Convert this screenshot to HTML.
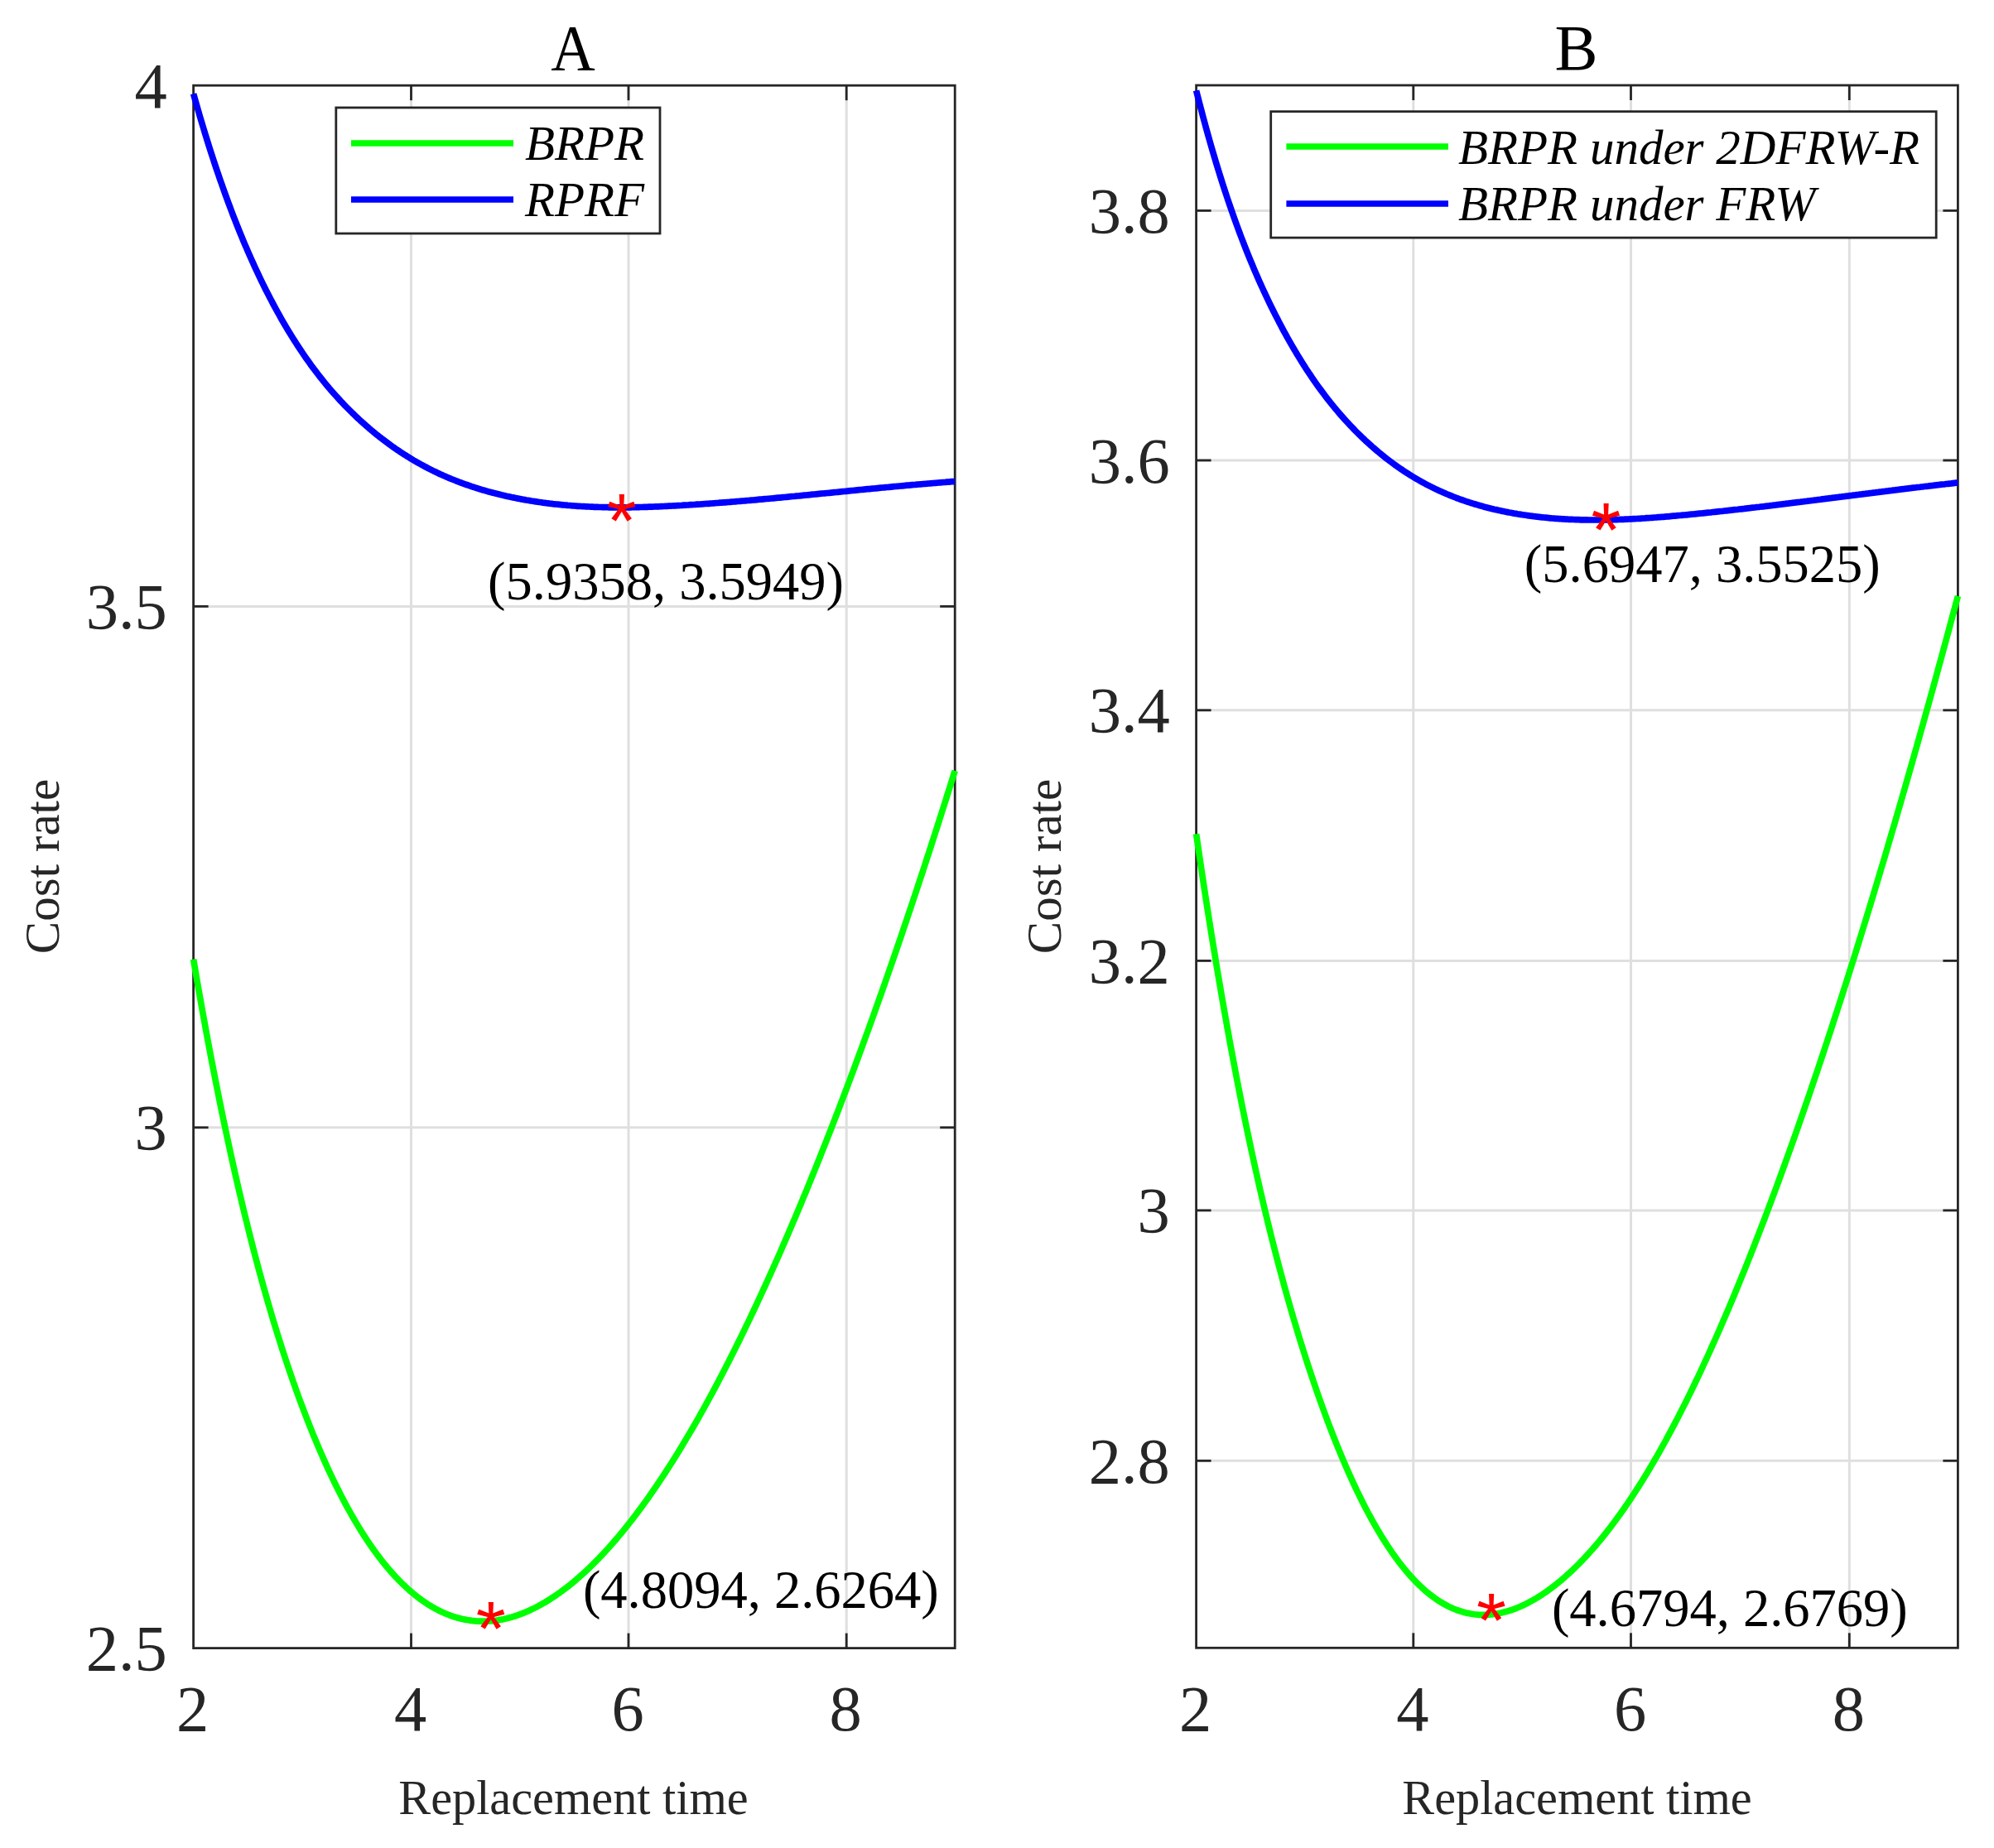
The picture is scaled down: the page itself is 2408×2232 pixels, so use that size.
<!DOCTYPE html>
<html><head><meta charset="utf-8"><title>Cost rate vs replacement time</title>
<style>html,body{margin:0;padding:0;background:#fff;}svg{display:block;}</style></head>
<body>
<svg width="2408" height="2232" viewBox="0 0 2408 2232">
<style>
text{font-family:"Liberation Serif","DejaVu Serif",serif;}
.tk{font-size:78.5px;fill:#262626;}
.ti{font-size:78px;fill:#000;}
.lb{font-size:59px;fill:#262626;}
.lg{font-size:59px;font-style:italic;fill:#000;}
.an{font-size:64.5px;fill:#000;}
.st{font-family:"Liberation Sans","DejaVu Sans",sans-serif;font-size:92.5px;fill:#f00;}
</style>
<rect width="2408" height="2232" fill="#fff"/>
<g stroke="#dfdfdf" stroke-width="3.0"><line x1="496.5" y1="103.2" x2="496.5" y2="1990.6"/><line x1="759.0" y1="103.2" x2="759.0" y2="1990.6"/><line x1="1022.2" y1="103.2" x2="1022.2" y2="1990.6"/><line x1="233.6" y1="732.4" x2="1153.2" y2="732.4"/><line x1="233.6" y1="1361.8" x2="1153.2" y2="1361.8"/></g>
<g stroke="#262626" stroke-width="2.8"><line x1="496.5" y1="1990.6" x2="496.5" y2="1972.6"/><line x1="496.5" y1="103.2" x2="496.5" y2="121.2"/><line x1="759.0" y1="1990.6" x2="759.0" y2="1972.6"/><line x1="759.0" y1="103.2" x2="759.0" y2="121.2"/><line x1="1022.2" y1="1990.6" x2="1022.2" y2="1972.6"/><line x1="1022.2" y1="103.2" x2="1022.2" y2="121.2"/><line x1="233.6" y1="732.4" x2="251.6" y2="732.4"/><line x1="1153.2" y1="732.4" x2="1135.2" y2="732.4"/><line x1="233.6" y1="1361.8" x2="251.6" y2="1361.8"/><line x1="1153.2" y1="1361.8" x2="1135.2" y2="1361.8"/></g>
<rect x="233.6" y="103.2" width="919.6" height="1887.4" fill="none" stroke="#262626" stroke-width="2.8"/>
<path d="M233.6,1158.7 L235.6,1170.5 L237.6,1182.1 L239.6,1193.6 L241.6,1204.9 L243.6,1216.2 L245.6,1227.3 L247.6,1238.3 L249.6,1249.1 L251.6,1259.9 L253.6,1270.5 L255.6,1281.0 L257.6,1291.4 L259.6,1301.6 L261.6,1311.8 L263.6,1321.8 L265.6,1331.7 L267.6,1341.5 L269.6,1351.2 L271.6,1360.7 L273.6,1370.2 L275.6,1379.5 L277.6,1388.8 L279.6,1397.9 L281.6,1406.9 L283.6,1415.8 L285.6,1424.6 L287.6,1433.3 L289.6,1441.9 L291.6,1450.4 L293.6,1458.8 L295.6,1467.1 L297.6,1475.2 L299.6,1483.3 L301.6,1491.3 L303.6,1499.2 L305.6,1507.0 L307.6,1514.7 L309.6,1522.3 L311.6,1529.8 L313.6,1537.2 L315.6,1544.5 L317.6,1551.7 L319.6,1558.9 L321.6,1565.9 L323.6,1572.9 L325.6,1579.8 L327.6,1586.6 L329.6,1593.3 L331.6,1599.9 L333.6,1606.4 L335.6,1612.9 L337.6,1619.2 L339.6,1625.5 L341.6,1631.7 L343.6,1637.9 L345.6,1643.9 L347.6,1649.9 L349.6,1655.8 L351.6,1661.6 L353.6,1667.4 L355.6,1673.1 L357.6,1678.7 L359.6,1684.2 L361.6,1689.7 L363.6,1695.1 L365.6,1700.4 L367.6,1705.7 L369.6,1710.9 L371.6,1716.0 L373.6,1721.1 L375.6,1726.1 L377.6,1731.1 L379.6,1736.0 L381.6,1740.8 L383.6,1745.5 L385.6,1750.2 L387.6,1754.8 L389.6,1759.4 L391.6,1763.9 L393.6,1768.4 L395.6,1772.8 L397.6,1777.1 L399.6,1781.4 L401.6,1785.6 L403.6,1789.7 L405.6,1793.8 L407.6,1797.8 L409.6,1801.8 L411.6,1805.7 L413.6,1809.6 L415.6,1813.4 L417.6,1817.1 L419.6,1820.8 L421.6,1824.4 L423.6,1828.0 L425.6,1831.5 L427.6,1835.0 L429.6,1838.4 L431.6,1841.7 L433.6,1845.0 L435.6,1848.3 L437.6,1851.4 L439.6,1854.6 L441.6,1857.6 L443.6,1860.7 L445.6,1863.6 L447.6,1866.6 L449.6,1869.4 L451.6,1872.3 L453.6,1875.0 L455.6,1877.7 L457.6,1880.4 L459.6,1883.0 L461.6,1885.6 L463.6,1888.1 L465.6,1890.5 L467.6,1893.0 L469.6,1895.3 L471.6,1897.6 L473.6,1899.9 L475.6,1902.1 L477.6,1904.3 L479.6,1906.4 L481.6,1908.5 L483.6,1910.5 L485.6,1912.5 L487.6,1914.4 L489.6,1916.3 L491.6,1918.2 L493.6,1920.0 L495.6,1921.7 L497.6,1923.4 L499.6,1925.1 L501.6,1926.7 L503.6,1928.3 L505.6,1929.8 L507.6,1931.3 L509.6,1932.8 L511.6,1934.2 L513.6,1935.5 L515.6,1936.9 L517.6,1938.2 L519.6,1939.4 L521.6,1940.6 L523.6,1941.7 L525.6,1942.9 L527.6,1943.9 L529.6,1945.0 L531.6,1946.0 L533.6,1946.9 L535.6,1947.8 L537.6,1948.7 L539.6,1949.5 L541.6,1950.3 L543.6,1951.1 L545.6,1951.8 L547.6,1952.5 L549.6,1953.1 L551.6,1953.7 L553.6,1954.3 L555.6,1954.8 L557.6,1955.3 L559.6,1955.7 L561.6,1956.1 L563.6,1956.5 L565.6,1956.8 L567.6,1957.1 L569.6,1957.4 L571.6,1957.6 L573.6,1957.8 L575.6,1958.0 L577.6,1958.1 L579.6,1958.2 L581.6,1958.2 L583.6,1958.2 L585.6,1958.2 L587.6,1958.1 L589.6,1958.0 L591.6,1957.9 L593.6,1957.8 L595.6,1957.6 L597.6,1957.3 L599.6,1957.1 L601.6,1956.8 L603.6,1956.4 L605.6,1956.1 L607.6,1955.7 L609.6,1955.2 L611.6,1954.8 L613.6,1954.3 L615.6,1953.7 L617.6,1953.2 L619.6,1952.6 L621.6,1952.0 L623.6,1951.3 L625.6,1950.6 L627.6,1949.9 L629.6,1949.2 L631.6,1948.4 L633.6,1947.6 L635.6,1946.7 L637.6,1945.9 L639.6,1945.0 L641.6,1944.0 L643.6,1943.1 L645.6,1942.1 L647.6,1941.1 L649.6,1940.0 L651.6,1938.9 L653.6,1937.8 L655.6,1936.7 L657.6,1935.6 L659.6,1934.4 L661.6,1933.1 L663.6,1931.9 L665.6,1930.6 L667.6,1929.3 L669.6,1928.0 L671.6,1926.6 L673.6,1925.2 L675.6,1923.8 L677.6,1922.4 L679.6,1920.9 L681.6,1919.4 L683.6,1917.9 L685.6,1916.3 L687.6,1914.8 L689.6,1913.2 L691.6,1911.5 L693.6,1909.9 L695.6,1908.2 L697.6,1906.4 L699.6,1904.7 L701.6,1902.9 L703.6,1901.1 L705.6,1899.3 L707.6,1897.5 L709.6,1895.6 L711.6,1893.7 L713.6,1891.7 L715.6,1889.8 L717.6,1887.8 L719.6,1885.8 L721.6,1883.7 L723.6,1881.7 L725.6,1879.6 L727.6,1877.5 L729.6,1875.3 L731.6,1873.2 L733.6,1871.0 L735.6,1868.7 L737.6,1866.5 L739.6,1864.2 L741.6,1861.9 L743.6,1859.6 L745.6,1857.3 L747.6,1854.9 L749.6,1852.5 L751.6,1850.1 L753.6,1847.6 L755.6,1845.1 L757.6,1842.6 L759.6,1840.1 L761.6,1837.5 L763.6,1835.0 L765.6,1832.4 L767.6,1829.7 L769.6,1827.1 L771.6,1824.4 L773.6,1821.7 L775.6,1819.0 L777.6,1816.2 L779.6,1813.5 L781.6,1810.7 L783.6,1807.9 L785.6,1805.0 L787.6,1802.1 L789.6,1799.2 L791.6,1796.3 L793.6,1793.4 L795.6,1790.4 L797.6,1787.4 L799.6,1784.4 L801.6,1781.4 L803.6,1778.3 L805.6,1775.2 L807.6,1772.1 L809.6,1769.0 L811.6,1765.9 L813.6,1762.7 L815.6,1759.5 L817.6,1756.3 L819.6,1753.0 L821.6,1749.7 L823.6,1746.4 L825.6,1743.1 L827.6,1739.8 L829.6,1736.4 L831.6,1733.0 L833.6,1729.6 L835.6,1726.2 L837.6,1722.8 L839.6,1719.3 L841.6,1715.8 L843.6,1712.3 L845.6,1708.7 L847.6,1705.2 L849.6,1701.6 L851.6,1698.0 L853.6,1694.3 L855.6,1690.7 L857.6,1687.0 L859.6,1683.3 L861.6,1679.6 L863.6,1675.9 L865.6,1672.1 L867.6,1668.3 L869.6,1664.5 L871.6,1660.7 L873.6,1656.8 L875.6,1653.0 L877.6,1649.1 L879.6,1645.2 L881.6,1641.2 L883.6,1637.3 L885.6,1633.3 L887.6,1629.3 L889.6,1625.3 L891.6,1621.2 L893.6,1617.2 L895.6,1613.1 L897.6,1609.0 L899.6,1604.9 L901.6,1600.7 L903.6,1596.6 L905.6,1592.4 L907.6,1588.2 L909.6,1584.0 L911.6,1579.7 L913.6,1575.5 L915.6,1571.2 L917.6,1566.9 L919.6,1562.5 L921.6,1558.2 L923.6,1553.8 L925.6,1549.4 L927.6,1545.0 L929.6,1540.6 L931.6,1536.2 L933.6,1531.7 L935.6,1527.2 L937.6,1522.7 L939.6,1518.2 L941.6,1513.7 L943.6,1509.1 L945.6,1504.5 L947.6,1499.9 L949.6,1495.3 L951.6,1490.7 L953.6,1486.0 L955.6,1481.3 L957.6,1476.6 L959.6,1471.9 L961.6,1467.2 L963.6,1462.4 L965.6,1457.7 L967.6,1452.9 L969.6,1448.1 L971.6,1443.2 L973.6,1438.4 L975.6,1433.5 L977.6,1428.6 L979.6,1423.7 L981.6,1418.8 L983.6,1413.9 L985.6,1408.9 L987.6,1404.0 L989.6,1399.0 L991.6,1393.9 L993.6,1388.9 L995.6,1383.9 L997.6,1378.8 L999.6,1373.7 L1001.6,1368.6 L1003.6,1363.5 L1005.6,1358.4 L1007.6,1353.2 L1009.6,1348.0 L1011.6,1342.8 L1013.6,1337.6 L1015.6,1332.4 L1017.6,1327.2 L1019.6,1321.9 L1021.6,1316.6 L1023.6,1311.3 L1025.6,1306.0 L1027.6,1300.7 L1029.6,1295.3 L1031.6,1289.9 L1033.6,1284.5 L1035.6,1279.1 L1037.6,1273.7 L1039.6,1268.3 L1041.6,1262.8 L1043.6,1257.3 L1045.6,1251.8 L1047.6,1246.3 L1049.6,1240.8 L1051.6,1235.2 L1053.6,1229.7 L1055.6,1224.1 L1057.6,1218.5 L1059.6,1212.9 L1061.6,1207.2 L1063.6,1201.6 L1065.6,1195.9 L1067.6,1190.2 L1069.6,1184.5 L1071.6,1178.8 L1073.6,1173.1 L1075.6,1167.3 L1077.6,1161.5 L1079.6,1155.7 L1081.6,1149.9 L1083.6,1144.1 L1085.6,1138.3 L1087.6,1132.4 L1089.6,1126.5 L1091.6,1120.6 L1093.6,1114.7 L1095.6,1108.8 L1097.6,1102.8 L1099.6,1096.9 L1101.6,1090.9 L1103.6,1084.9 L1105.6,1078.9 L1107.6,1072.9 L1109.6,1066.8 L1111.6,1060.8 L1113.6,1054.7 L1115.6,1048.6 L1117.6,1042.5 L1119.6,1036.3 L1121.6,1030.2 L1123.6,1024.0 L1125.6,1017.8 L1127.6,1011.6 L1129.6,1005.4 L1131.6,999.2 L1133.6,993.0 L1135.6,986.7 L1137.6,980.4 L1139.6,974.1 L1141.6,967.8 L1143.6,961.5 L1145.6,955.1 L1147.6,948.8 L1149.6,942.4 L1151.6,936.0 L1153.2,930.9" fill="none" stroke="#00ff00" stroke-width="7.7" stroke-linejoin="round"/>
<path d="M233.6,113.3 L235.6,120.4 L237.6,127.4 L239.6,134.3 L241.6,141.2 L243.6,147.9 L245.6,154.5 L247.6,161.1 L249.6,167.6 L251.6,174.0 L253.6,180.3 L255.6,186.5 L257.6,192.6 L259.6,198.7 L261.6,204.7 L263.6,210.6 L265.6,216.4 L267.6,222.1 L269.6,227.8 L271.6,233.4 L273.6,238.9 L275.6,244.4 L277.6,249.7 L279.6,255.0 L281.6,260.3 L283.6,265.4 L285.6,270.5 L287.6,275.5 L289.6,280.5 L291.6,285.3 L293.6,290.2 L295.6,294.9 L297.6,299.6 L299.6,304.2 L301.6,308.8 L303.6,313.3 L305.6,317.7 L307.6,322.1 L309.6,326.4 L311.6,330.7 L313.6,334.9 L315.6,339.1 L317.6,343.1 L319.6,347.2 L321.6,351.2 L323.6,355.1 L325.6,359.0 L327.6,362.8 L329.6,366.6 L331.6,370.3 L333.6,374.0 L335.6,377.7 L337.6,381.2 L339.6,384.8 L341.6,388.3 L343.6,391.7 L345.6,395.1 L347.6,398.5 L349.6,401.8 L351.6,405.0 L353.6,408.2 L355.6,411.4 L357.6,414.5 L359.6,417.6 L361.6,420.7 L363.6,423.7 L365.6,426.6 L367.6,429.6 L369.6,432.5 L371.6,435.3 L373.6,438.1 L375.6,440.9 L377.6,443.6 L379.6,446.3 L381.6,448.9 L383.6,451.5 L385.6,454.1 L387.6,456.7 L389.6,459.2 L391.6,461.6 L393.6,464.1 L395.6,466.5 L397.6,468.9 L399.6,471.2 L401.6,473.5 L403.6,475.8 L405.6,478.0 L407.6,480.2 L409.6,482.4 L411.6,484.6 L413.6,486.7 L415.6,488.8 L417.6,490.9 L419.6,492.9 L421.6,494.9 L423.6,496.9 L425.6,498.9 L427.6,500.8 L429.6,502.7 L431.6,504.6 L433.6,506.5 L435.6,508.3 L437.6,510.1 L439.6,511.9 L441.6,513.7 L443.6,515.4 L445.6,517.2 L447.6,518.9 L449.6,520.6 L451.6,522.2 L453.6,523.9 L455.6,525.5 L457.6,527.1 L459.6,528.6 L461.6,530.2 L463.6,531.7 L465.6,533.2 L467.6,534.7 L469.6,536.2 L471.6,537.7 L473.6,539.1 L475.6,540.5 L477.6,541.9 L479.6,543.3 L481.6,544.6 L483.6,545.9 L485.6,547.3 L487.6,548.6 L489.6,549.8 L491.6,551.1 L493.6,552.3 L495.6,553.6 L497.6,554.8 L499.6,556.0 L501.6,557.1 L503.6,558.3 L505.6,559.4 L507.6,560.5 L509.6,561.6 L511.6,562.7 L513.6,563.8 L515.6,564.8 L517.6,565.9 L519.6,566.9 L521.6,567.9 L523.6,568.9 L525.6,569.8 L527.6,570.8 L529.6,571.7 L531.6,572.7 L533.6,573.6 L535.6,574.5 L537.6,575.3 L539.6,576.2 L541.6,577.1 L543.6,577.9 L545.6,578.7 L547.6,579.5 L549.6,580.3 L551.6,581.1 L553.6,581.9 L555.6,582.6 L557.6,583.4 L559.6,584.1 L561.6,584.8 L563.6,585.5 L565.6,586.2 L567.6,586.9 L569.6,587.6 L571.6,588.2 L573.6,588.9 L575.6,589.5 L577.6,590.1 L579.6,590.8 L581.6,591.4 L583.6,591.9 L585.6,592.5 L587.6,593.1 L589.6,593.7 L591.6,594.2 L593.6,594.7 L595.6,595.3 L597.6,595.8 L599.6,596.3 L601.6,596.8 L603.6,597.3 L605.6,597.8 L607.6,598.2 L609.6,598.7 L611.6,599.2 L613.6,599.6 L615.6,600.0 L617.6,600.5 L619.6,600.9 L621.6,601.3 L623.6,601.7 L625.6,602.1 L627.6,602.5 L629.6,602.9 L631.6,603.2 L633.6,603.6 L635.6,604.0 L637.6,604.3 L639.6,604.6 L641.6,605.0 L643.6,605.3 L645.6,605.6 L647.6,605.9 L649.6,606.2 L651.6,606.5 L653.6,606.8 L655.6,607.1 L657.6,607.3 L659.6,607.6 L661.6,607.8 L663.6,608.1 L665.6,608.3 L667.6,608.6 L669.6,608.8 L671.6,609.0 L673.6,609.2 L675.6,609.4 L677.6,609.6 L679.6,609.8 L681.6,610.0 L683.6,610.2 L685.6,610.4 L687.6,610.5 L689.6,610.7 L691.6,610.8 L693.6,611.0 L695.6,611.1 L697.6,611.3 L699.6,611.4 L701.6,611.5 L703.6,611.6 L705.6,611.7 L707.6,611.8 L709.6,611.9 L711.6,612.0 L713.6,612.1 L715.6,612.2 L717.6,612.3 L719.6,612.4 L721.6,612.4 L723.6,612.5 L725.6,612.5 L727.6,612.6 L729.6,612.6 L731.6,612.7 L733.6,612.7 L735.6,612.8 L737.6,612.8 L739.6,612.8 L741.6,612.8 L743.6,612.8 L745.6,612.8 L747.6,612.8 L749.6,612.8 L751.6,612.8 L753.6,612.8 L755.6,612.8 L757.6,612.8 L759.6,612.8 L761.6,612.8 L763.6,612.7 L765.6,612.7 L767.6,612.7 L769.6,612.6 L771.6,612.6 L773.6,612.5 L775.6,612.5 L777.6,612.4 L779.6,612.4 L781.6,612.3 L783.6,612.2 L785.6,612.2 L787.6,612.1 L789.6,612.0 L791.6,611.9 L793.6,611.9 L795.6,611.8 L797.6,611.7 L799.6,611.6 L801.6,611.5 L803.6,611.4 L805.6,611.3 L807.6,611.2 L809.6,611.1 L811.6,611.0 L813.6,610.9 L815.6,610.8 L817.6,610.7 L819.6,610.6 L821.6,610.5 L823.6,610.4 L825.6,610.2 L827.6,610.1 L829.6,610.0 L831.6,609.9 L833.6,609.7 L835.6,609.6 L837.6,609.5 L839.6,609.4 L841.6,609.2 L843.6,609.1 L845.6,609.0 L847.6,608.8 L849.6,608.7 L851.6,608.5 L853.6,608.4 L855.6,608.3 L857.6,608.1 L859.6,608.0 L861.6,607.8 L863.6,607.7 L865.6,607.5 L867.6,607.4 L869.6,607.2 L871.6,607.1 L873.6,606.9 L875.6,606.8 L877.6,606.6 L879.6,606.5 L881.6,606.3 L883.6,606.1 L885.6,606.0 L887.6,605.8 L889.6,605.6 L891.6,605.5 L893.6,605.3 L895.6,605.1 L897.6,605.0 L899.6,604.8 L901.6,604.6 L903.6,604.5 L905.6,604.3 L907.6,604.1 L909.6,604.0 L911.6,603.8 L913.6,603.6 L915.6,603.4 L917.6,603.2 L919.6,603.1 L921.6,602.9 L923.6,602.7 L925.6,602.5 L927.6,602.3 L929.6,602.2 L931.6,602.0 L933.6,601.8 L935.6,601.6 L937.6,601.4 L939.6,601.2 L941.6,601.1 L943.6,600.9 L945.6,600.7 L947.6,600.5 L949.6,600.3 L951.6,600.1 L953.6,599.9 L955.6,599.7 L957.6,599.5 L959.6,599.4 L961.6,599.2 L963.6,599.0 L965.6,598.8 L967.6,598.6 L969.6,598.4 L971.6,598.2 L973.6,598.0 L975.6,597.8 L977.6,597.6 L979.6,597.4 L981.6,597.2 L983.6,597.0 L985.6,596.8 L987.6,596.6 L989.6,596.4 L991.6,596.2 L993.6,596.0 L995.6,595.8 L997.6,595.7 L999.6,595.5 L1001.6,595.3 L1003.6,595.1 L1005.6,594.9 L1007.6,594.7 L1009.6,594.5 L1011.6,594.3 L1013.6,594.1 L1015.6,593.9 L1017.6,593.7 L1019.6,593.5 L1021.6,593.3 L1023.6,593.1 L1025.6,592.9 L1027.6,592.7 L1029.6,592.5 L1031.6,592.3 L1033.6,592.1 L1035.6,591.9 L1037.6,591.7 L1039.6,591.5 L1041.6,591.3 L1043.6,591.1 L1045.6,590.9 L1047.6,590.7 L1049.6,590.6 L1051.6,590.4 L1053.6,590.2 L1055.6,590.0 L1057.6,589.8 L1059.6,589.6 L1061.6,589.4 L1063.6,589.2 L1065.6,589.0 L1067.6,588.8 L1069.6,588.6 L1071.6,588.5 L1073.6,588.3 L1075.6,588.1 L1077.6,587.9 L1079.6,587.7 L1081.6,587.5 L1083.6,587.3 L1085.6,587.2 L1087.6,587.0 L1089.6,586.8 L1091.6,586.6 L1093.6,586.4 L1095.6,586.2 L1097.6,586.1 L1099.6,585.9 L1101.6,585.7 L1103.6,585.5 L1105.6,585.4 L1107.6,585.2 L1109.6,585.0 L1111.6,584.8 L1113.6,584.7 L1115.6,584.5 L1117.6,584.3 L1119.6,584.2 L1121.6,584.0 L1123.6,583.8 L1125.6,583.7 L1127.6,583.5 L1129.6,583.3 L1131.6,583.2 L1133.6,583.0 L1135.6,582.8 L1137.6,582.7 L1139.6,582.5 L1141.6,582.4 L1143.6,582.2 L1145.6,582.1 L1147.6,581.9 L1149.6,581.7 L1151.6,581.6 L1153.2,581.5" fill="none" stroke="#0000ff" stroke-width="7.7" stroke-linejoin="round"/>
<text x="232.6" y="2089.5" text-anchor="middle" class="tk">2</text>
<text x="495.5" y="2089.5" text-anchor="middle" class="tk">4</text>
<text x="758.0" y="2089.5" text-anchor="middle" class="tk">6</text>
<text x="1021.2" y="2089.5" text-anchor="middle" class="tk">8</text>
<text x="201.8" y="129.7" text-anchor="end" class="tk">4</text>
<text x="201.8" y="758.9" text-anchor="end" class="tk">3.5</text>
<text x="201.8" y="1388.3" text-anchor="end" class="tk">3</text>
<text x="201.8" y="2017.1" text-anchor="end" class="tk">2.5</text>
<g stroke="#dfdfdf" stroke-width="3.0"><line x1="1706.8" y1="103.0" x2="1706.8" y2="1990.3"/><line x1="1969.5" y1="103.0" x2="1969.5" y2="1990.3"/><line x1="2233.3" y1="103.0" x2="2233.3" y2="1990.3"/><line x1="1444.6" y1="254.4" x2="2364.4" y2="254.4"/><line x1="1444.6" y1="556.0" x2="2364.4" y2="556.0"/><line x1="1444.6" y1="857.8" x2="2364.4" y2="857.8"/><line x1="1444.6" y1="1160.4" x2="2364.4" y2="1160.4"/><line x1="1444.6" y1="1461.9" x2="2364.4" y2="1461.9"/><line x1="1444.6" y1="1764.3" x2="2364.4" y2="1764.3"/></g>
<g stroke="#262626" stroke-width="2.8"><line x1="1706.8" y1="1990.3" x2="1706.8" y2="1972.3"/><line x1="1706.8" y1="103.0" x2="1706.8" y2="121.0"/><line x1="1969.5" y1="1990.3" x2="1969.5" y2="1972.3"/><line x1="1969.5" y1="103.0" x2="1969.5" y2="121.0"/><line x1="2233.3" y1="1990.3" x2="2233.3" y2="1972.3"/><line x1="2233.3" y1="103.0" x2="2233.3" y2="121.0"/><line x1="1444.6" y1="254.4" x2="1462.6" y2="254.4"/><line x1="2364.4" y1="254.4" x2="2346.4" y2="254.4"/><line x1="1444.6" y1="556.0" x2="1462.6" y2="556.0"/><line x1="2364.4" y1="556.0" x2="2346.4" y2="556.0"/><line x1="1444.6" y1="857.8" x2="1462.6" y2="857.8"/><line x1="2364.4" y1="857.8" x2="2346.4" y2="857.8"/><line x1="1444.6" y1="1160.4" x2="1462.6" y2="1160.4"/><line x1="2364.4" y1="1160.4" x2="2346.4" y2="1160.4"/><line x1="1444.6" y1="1461.9" x2="1462.6" y2="1461.9"/><line x1="2364.4" y1="1461.9" x2="2346.4" y2="1461.9"/><line x1="1444.6" y1="1764.3" x2="1462.6" y2="1764.3"/><line x1="2364.4" y1="1764.3" x2="2346.4" y2="1764.3"/></g>
<rect x="1444.6" y="103.0" width="919.8" height="1887.3" fill="none" stroke="#262626" stroke-width="2.8"/>
<path d="M1444.6,1007.3 L1446.6,1021.1 L1448.6,1034.8 L1450.6,1048.2 L1452.6,1061.6 L1454.6,1074.8 L1456.6,1087.8 L1458.6,1100.7 L1460.6,1113.4 L1462.6,1126.0 L1464.6,1138.4 L1466.6,1150.7 L1468.6,1162.8 L1470.6,1174.8 L1472.6,1186.7 L1474.6,1198.4 L1476.6,1209.9 L1478.6,1221.4 L1480.6,1232.7 L1482.6,1243.8 L1484.6,1254.9 L1486.6,1265.7 L1488.6,1276.5 L1490.6,1287.1 L1492.6,1297.6 L1494.6,1308.0 L1496.6,1318.2 L1498.6,1328.4 L1500.6,1338.4 L1502.6,1348.2 L1504.6,1358.0 L1506.6,1367.6 L1508.6,1377.1 L1510.6,1386.5 L1512.6,1395.8 L1514.6,1405.0 L1516.6,1414.0 L1518.6,1423.0 L1520.6,1431.8 L1522.6,1440.5 L1524.6,1449.1 L1526.6,1457.6 L1528.6,1466.0 L1530.6,1474.3 L1532.6,1482.5 L1534.6,1490.6 L1536.6,1498.6 L1538.6,1506.5 L1540.6,1514.3 L1542.6,1522.0 L1544.6,1529.6 L1546.6,1537.1 L1548.6,1544.5 L1550.6,1551.9 L1552.6,1559.1 L1554.6,1566.3 L1556.6,1573.3 L1558.6,1580.3 L1560.6,1587.2 L1562.6,1594.0 L1564.6,1600.7 L1566.6,1607.4 L1568.6,1614.0 L1570.6,1620.5 L1572.6,1626.9 L1574.6,1633.2 L1576.6,1639.5 L1578.6,1645.7 L1580.6,1651.8 L1582.6,1657.8 L1584.6,1663.8 L1586.6,1669.8 L1588.6,1675.6 L1590.6,1681.4 L1592.6,1687.1 L1594.6,1692.7 L1596.6,1698.3 L1598.6,1703.8 L1600.6,1709.3 L1602.6,1714.7 L1604.6,1720.0 L1606.6,1725.2 L1608.6,1730.4 L1610.6,1735.5 L1612.6,1740.5 L1614.6,1745.5 L1616.6,1750.4 L1618.6,1755.3 L1620.6,1760.1 L1622.6,1764.8 L1624.6,1769.5 L1626.6,1774.0 L1628.6,1778.6 L1630.6,1783.0 L1632.6,1787.4 L1634.6,1791.8 L1636.6,1796.0 L1638.6,1800.3 L1640.6,1804.4 L1642.6,1808.5 L1644.6,1812.5 L1646.6,1816.5 L1648.6,1820.4 L1650.6,1824.2 L1652.6,1828.0 L1654.6,1831.7 L1656.6,1835.3 L1658.6,1838.9 L1660.6,1842.4 L1662.6,1845.9 L1664.6,1849.3 L1666.6,1852.6 L1668.6,1855.9 L1670.6,1859.1 L1672.6,1862.3 L1674.6,1865.4 L1676.6,1868.4 L1678.6,1871.4 L1680.6,1874.4 L1682.6,1877.2 L1684.6,1880.0 L1686.6,1882.8 L1688.6,1885.5 L1690.6,1888.1 L1692.6,1890.7 L1694.6,1893.2 L1696.6,1895.6 L1698.6,1898.0 L1700.6,1900.4 L1702.6,1902.6 L1704.6,1904.9 L1706.6,1907.0 L1708.6,1909.2 L1710.6,1911.2 L1712.6,1913.2 L1714.6,1915.2 L1716.6,1917.0 L1718.6,1918.9 L1720.6,1920.7 L1722.6,1922.4 L1724.6,1924.0 L1726.6,1925.7 L1728.6,1927.2 L1730.6,1928.7 L1732.6,1930.2 L1734.6,1931.6 L1736.6,1932.9 L1738.6,1934.2 L1740.6,1935.4 L1742.6,1936.6 L1744.6,1937.8 L1746.6,1938.8 L1748.6,1939.9 L1750.6,1940.9 L1752.6,1941.8 L1754.6,1942.7 L1756.6,1943.5 L1758.6,1944.3 L1760.6,1945.0 L1762.6,1945.7 L1764.6,1946.3 L1766.6,1946.9 L1768.6,1947.5 L1770.6,1948.0 L1772.6,1948.4 L1774.6,1948.8 L1776.6,1949.2 L1778.6,1949.5 L1780.6,1949.8 L1782.6,1950.0 L1784.6,1950.2 L1786.6,1950.3 L1788.6,1950.4 L1790.6,1950.4 L1792.6,1950.4 L1794.6,1950.4 L1796.6,1950.3 L1798.6,1950.2 L1800.6,1950.0 L1802.6,1949.8 L1804.6,1949.5 L1806.6,1949.2 L1808.6,1948.9 L1810.6,1948.5 L1812.6,1948.1 L1814.6,1947.6 L1816.6,1947.1 L1818.6,1946.6 L1820.6,1946.0 L1822.6,1945.4 L1824.6,1944.8 L1826.6,1944.1 L1828.6,1943.4 L1830.6,1942.6 L1832.6,1941.8 L1834.6,1941.0 L1836.6,1940.1 L1838.6,1939.2 L1840.6,1938.2 L1842.6,1937.3 L1844.6,1936.3 L1846.6,1935.2 L1848.6,1934.1 L1850.6,1933.0 L1852.6,1931.9 L1854.6,1930.7 L1856.6,1929.5 L1858.6,1928.2 L1860.6,1927.0 L1862.6,1925.7 L1864.6,1924.3 L1866.6,1923.0 L1868.6,1921.6 L1870.6,1920.1 L1872.6,1918.7 L1874.6,1917.2 L1876.6,1915.6 L1878.6,1914.1 L1880.6,1912.5 L1882.6,1910.8 L1884.6,1909.2 L1886.6,1907.5 L1888.6,1905.8 L1890.6,1904.0 L1892.6,1902.2 L1894.6,1900.4 L1896.6,1898.6 L1898.6,1896.7 L1900.6,1894.8 L1902.6,1892.9 L1904.6,1890.9 L1906.6,1888.9 L1908.6,1886.8 L1910.6,1884.8 L1912.6,1882.7 L1914.6,1880.5 L1916.6,1878.4 L1918.6,1876.2 L1920.6,1874.0 L1922.6,1871.7 L1924.6,1869.4 L1926.6,1867.1 L1928.6,1864.8 L1930.6,1862.4 L1932.6,1860.0 L1934.6,1857.5 L1936.6,1855.0 L1938.6,1852.5 L1940.6,1850.0 L1942.6,1847.4 L1944.6,1844.8 L1946.6,1842.2 L1948.6,1839.5 L1950.6,1836.8 L1952.6,1834.1 L1954.6,1831.3 L1956.6,1828.6 L1958.6,1825.7 L1960.6,1822.9 L1962.6,1820.0 L1964.6,1817.1 L1966.6,1814.1 L1968.6,1811.2 L1970.6,1808.2 L1972.6,1805.1 L1974.6,1802.0 L1976.6,1798.9 L1978.6,1795.8 L1980.6,1792.6 L1982.6,1789.5 L1984.6,1786.2 L1986.6,1783.0 L1988.6,1779.7 L1990.6,1776.4 L1992.6,1773.0 L1994.6,1769.6 L1996.6,1766.2 L1998.6,1762.8 L2000.6,1759.3 L2002.6,1755.8 L2004.6,1752.3 L2006.6,1748.7 L2008.6,1745.1 L2010.6,1741.5 L2012.6,1737.8 L2014.6,1734.1 L2016.6,1730.4 L2018.6,1726.7 L2020.6,1722.9 L2022.6,1719.1 L2024.6,1715.3 L2026.6,1711.4 L2028.6,1707.5 L2030.6,1703.6 L2032.6,1699.6 L2034.6,1695.7 L2036.6,1691.7 L2038.6,1687.6 L2040.6,1683.6 L2042.6,1679.5 L2044.6,1675.3 L2046.6,1671.2 L2048.6,1667.0 L2050.6,1662.8 L2052.6,1658.6 L2054.6,1654.3 L2056.6,1650.0 L2058.6,1645.7 L2060.6,1641.3 L2062.6,1637.0 L2064.6,1632.6 L2066.6,1628.1 L2068.6,1623.7 L2070.6,1619.2 L2072.6,1614.7 L2074.6,1610.2 L2076.6,1605.6 L2078.6,1601.0 L2080.6,1596.4 L2082.6,1591.8 L2084.6,1587.1 L2086.6,1582.4 L2088.6,1577.7 L2090.6,1572.9 L2092.6,1568.2 L2094.6,1563.4 L2096.6,1558.5 L2098.6,1553.7 L2100.6,1548.8 L2102.6,1543.9 L2104.6,1539.0 L2106.6,1534.1 L2108.6,1529.1 L2110.6,1524.1 L2112.6,1519.1 L2114.6,1514.0 L2116.6,1509.0 L2118.6,1503.9 L2120.6,1498.7 L2122.6,1493.6 L2124.6,1488.4 L2126.6,1483.2 L2128.6,1478.0 L2130.6,1472.8 L2132.6,1467.5 L2134.6,1462.2 L2136.6,1456.9 L2138.6,1451.6 L2140.6,1446.2 L2142.6,1440.9 L2144.6,1435.5 L2146.6,1430.1 L2148.6,1424.6 L2150.6,1419.1 L2152.6,1413.6 L2154.6,1408.1 L2156.6,1402.6 L2158.6,1397.0 L2160.6,1391.5 L2162.6,1385.9 L2164.6,1380.2 L2166.6,1374.6 L2168.6,1368.9 L2170.6,1363.3 L2172.6,1357.5 L2174.6,1351.8 L2176.6,1346.1 L2178.6,1340.3 L2180.6,1334.5 L2182.6,1328.7 L2184.6,1322.9 L2186.6,1317.0 L2188.6,1311.1 L2190.6,1305.2 L2192.6,1299.3 L2194.6,1293.4 L2196.6,1287.4 L2198.6,1281.5 L2200.6,1275.5 L2202.6,1269.5 L2204.6,1263.4 L2206.6,1257.4 L2208.6,1251.3 L2210.6,1245.2 L2212.6,1239.1 L2214.6,1232.9 L2216.6,1226.8 L2218.6,1220.6 L2220.6,1214.4 L2222.6,1208.2 L2224.6,1202.0 L2226.6,1195.7 L2228.6,1189.4 L2230.6,1183.1 L2232.6,1176.8 L2234.6,1170.5 L2236.6,1164.1 L2238.6,1157.8 L2240.6,1151.4 L2242.6,1145.0 L2244.6,1138.5 L2246.6,1132.1 L2248.6,1125.6 L2250.6,1119.1 L2252.6,1112.6 L2254.6,1106.1 L2256.6,1099.5 L2258.6,1093.0 L2260.6,1086.4 L2262.6,1079.8 L2264.6,1073.2 L2266.6,1066.5 L2268.6,1059.9 L2270.6,1053.2 L2272.6,1046.5 L2274.6,1039.8 L2276.6,1033.1 L2278.6,1026.3 L2280.6,1019.5 L2282.6,1012.7 L2284.6,1005.9 L2286.6,999.1 L2288.6,992.3 L2290.6,985.4 L2292.6,978.5 L2294.6,971.6 L2296.6,964.7 L2298.6,957.8 L2300.6,950.8 L2302.6,943.9 L2304.6,936.9 L2306.6,929.9 L2308.6,922.9 L2310.6,915.8 L2312.6,908.8 L2314.6,901.7 L2316.6,894.6 L2318.6,887.5 L2320.6,880.3 L2322.6,873.2 L2324.6,866.0 L2326.6,858.9 L2328.6,851.7 L2330.6,844.4 L2332.6,837.2 L2334.6,830.0 L2336.6,822.7 L2338.6,815.4 L2340.6,808.1 L2342.6,800.8 L2344.6,793.5 L2346.6,786.1 L2348.6,778.7 L2350.6,771.3 L2352.6,763.9 L2354.6,756.5 L2356.6,749.1 L2358.6,741.6 L2360.6,734.2 L2362.6,726.7 L2364.4,719.9" fill="none" stroke="#00ff00" stroke-width="7.7" stroke-linejoin="round"/>
<path d="M1444.6,109.4 L1446.6,117.2 L1448.6,125.0 L1450.6,132.6 L1452.6,140.2 L1454.6,147.6 L1456.6,154.9 L1458.6,162.1 L1460.6,169.2 L1462.6,176.2 L1464.6,183.1 L1466.6,189.9 L1468.6,196.6 L1470.6,203.1 L1472.6,209.6 L1474.6,216.0 L1476.6,222.3 L1478.6,228.5 L1480.6,234.6 L1482.6,240.6 L1484.6,246.5 L1486.6,252.3 L1488.6,258.1 L1490.6,263.7 L1492.6,269.3 L1494.6,274.8 L1496.6,280.2 L1498.6,285.5 L1500.6,290.7 L1502.6,295.9 L1504.6,301.0 L1506.6,306.0 L1508.6,311.0 L1510.6,315.8 L1512.6,320.6 L1514.6,325.4 L1516.6,330.0 L1518.6,334.6 L1520.6,339.2 L1522.6,343.6 L1524.6,348.0 L1526.6,352.4 L1528.6,356.7 L1530.6,360.9 L1532.6,365.1 L1534.6,369.2 L1536.6,373.3 L1538.6,377.3 L1540.6,381.2 L1542.6,385.1 L1544.6,389.0 L1546.6,392.8 L1548.6,396.6 L1550.6,400.3 L1552.6,403.9 L1554.6,407.6 L1556.6,411.1 L1558.6,414.6 L1560.6,418.1 L1562.6,421.5 L1564.6,424.9 L1566.6,428.3 L1568.6,431.5 L1570.6,434.8 L1572.6,438.0 L1574.6,441.1 L1576.6,444.3 L1578.6,447.3 L1580.6,450.4 L1582.6,453.3 L1584.6,456.3 L1586.6,459.2 L1588.6,462.1 L1590.6,464.9 L1592.6,467.7 L1594.6,470.4 L1596.6,473.1 L1598.6,475.8 L1600.6,478.5 L1602.6,481.1 L1604.6,483.6 L1606.6,486.1 L1608.6,488.6 L1610.6,491.1 L1612.6,493.5 L1614.6,495.9 L1616.6,498.3 L1618.6,500.6 L1620.6,502.9 L1622.6,505.1 L1624.6,507.3 L1626.6,509.5 L1628.6,511.7 L1630.6,513.8 L1632.6,515.9 L1634.6,518.0 L1636.6,520.1 L1638.6,522.1 L1640.6,524.1 L1642.6,526.0 L1644.6,528.0 L1646.6,529.9 L1648.6,531.8 L1650.6,533.6 L1652.6,535.4 L1654.6,537.3 L1656.6,539.0 L1658.6,540.8 L1660.6,542.5 L1662.6,544.2 L1664.6,545.9 L1666.6,547.6 L1668.6,549.2 L1670.6,550.8 L1672.6,552.4 L1674.6,554.0 L1676.6,555.5 L1678.6,557.0 L1680.6,558.5 L1682.6,560.0 L1684.6,561.5 L1686.6,562.9 L1688.6,564.3 L1690.6,565.7 L1692.6,567.0 L1694.6,568.4 L1696.6,569.7 L1698.6,571.0 L1700.6,572.3 L1702.6,573.6 L1704.6,574.8 L1706.6,576.0 L1708.6,577.2 L1710.6,578.4 L1712.6,579.5 L1714.6,580.7 L1716.6,581.8 L1718.6,582.9 L1720.6,584.0 L1722.6,585.1 L1724.6,586.1 L1726.6,587.1 L1728.6,588.1 L1730.6,589.1 L1732.6,590.1 L1734.6,591.1 L1736.6,592.0 L1738.6,592.9 L1740.6,593.8 L1742.6,594.7 L1744.6,595.6 L1746.6,596.5 L1748.6,597.3 L1750.6,598.1 L1752.6,598.9 L1754.6,599.7 L1756.6,600.5 L1758.6,601.3 L1760.6,602.0 L1762.6,602.8 L1764.6,603.5 L1766.6,604.2 L1768.6,604.9 L1770.6,605.6 L1772.6,606.2 L1774.6,606.9 L1776.6,607.5 L1778.6,608.1 L1780.6,608.7 L1782.6,609.3 L1784.6,609.9 L1786.6,610.5 L1788.6,611.1 L1790.6,611.6 L1792.6,612.2 L1794.6,612.7 L1796.6,613.2 L1798.6,613.7 L1800.6,614.2 L1802.6,614.7 L1804.6,615.2 L1806.6,615.6 L1808.6,616.1 L1810.6,616.5 L1812.6,616.9 L1814.6,617.4 L1816.6,617.8 L1818.6,618.2 L1820.6,618.6 L1822.6,619.0 L1824.6,619.3 L1826.6,619.7 L1828.6,620.1 L1830.6,620.4 L1832.6,620.8 L1834.6,621.1 L1836.6,621.4 L1838.6,621.7 L1840.6,622.0 L1842.6,622.3 L1844.6,622.6 L1846.6,622.9 L1848.6,623.2 L1850.6,623.4 L1852.6,623.7 L1854.6,623.9 L1856.6,624.2 L1858.6,624.4 L1860.6,624.6 L1862.6,624.8 L1864.6,625.0 L1866.6,625.2 L1868.6,625.4 L1870.6,625.6 L1872.6,625.8 L1874.6,626.0 L1876.6,626.1 L1878.6,626.3 L1880.6,626.4 L1882.6,626.6 L1884.6,626.7 L1886.6,626.8 L1888.6,626.9 L1890.6,627.1 L1892.6,627.2 L1894.6,627.3 L1896.6,627.4 L1898.6,627.4 L1900.6,627.5 L1902.6,627.6 L1904.6,627.7 L1906.6,627.7 L1908.6,627.8 L1910.6,627.8 L1912.6,627.9 L1914.6,627.9 L1916.6,627.9 L1918.6,628.0 L1920.6,628.0 L1922.6,628.0 L1924.6,628.0 L1926.6,628.0 L1928.6,628.0 L1930.6,628.0 L1932.6,628.0 L1934.6,628.0 L1936.6,627.9 L1938.6,627.9 L1940.6,627.9 L1942.6,627.8 L1944.6,627.8 L1946.6,627.8 L1948.6,627.7 L1950.6,627.6 L1952.6,627.6 L1954.6,627.5 L1956.6,627.4 L1958.6,627.4 L1960.6,627.3 L1962.6,627.2 L1964.6,627.1 L1966.6,627.0 L1968.6,626.9 L1970.6,626.8 L1972.6,626.7 L1974.6,626.6 L1976.6,626.5 L1978.6,626.4 L1980.6,626.3 L1982.6,626.1 L1984.6,626.0 L1986.6,625.9 L1988.6,625.7 L1990.6,625.6 L1992.6,625.5 L1994.6,625.3 L1996.6,625.2 L1998.6,625.0 L2000.6,624.9 L2002.6,624.7 L2004.6,624.6 L2006.6,624.4 L2008.6,624.3 L2010.6,624.1 L2012.6,623.9 L2014.6,623.8 L2016.6,623.6 L2018.6,623.4 L2020.6,623.2 L2022.6,623.1 L2024.6,622.9 L2026.6,622.7 L2028.6,622.5 L2030.6,622.3 L2032.6,622.1 L2034.6,622.0 L2036.6,621.8 L2038.6,621.6 L2040.6,621.4 L2042.6,621.2 L2044.6,621.0 L2046.6,620.8 L2048.6,620.6 L2050.6,620.4 L2052.6,620.2 L2054.6,620.0 L2056.6,619.8 L2058.6,619.6 L2060.6,619.4 L2062.6,619.2 L2064.6,619.0 L2066.6,618.8 L2068.6,618.5 L2070.6,618.3 L2072.6,618.1 L2074.6,617.9 L2076.6,617.7 L2078.6,617.5 L2080.6,617.3 L2082.6,617.0 L2084.6,616.8 L2086.6,616.6 L2088.6,616.4 L2090.6,616.2 L2092.6,615.9 L2094.6,615.7 L2096.6,615.5 L2098.6,615.3 L2100.6,615.0 L2102.6,614.8 L2104.6,614.6 L2106.6,614.4 L2108.6,614.1 L2110.6,613.9 L2112.6,613.7 L2114.6,613.4 L2116.6,613.2 L2118.6,613.0 L2120.6,612.7 L2122.6,612.5 L2124.6,612.3 L2126.6,612.0 L2128.6,611.8 L2130.6,611.6 L2132.6,611.3 L2134.6,611.1 L2136.6,610.9 L2138.6,610.6 L2140.6,610.4 L2142.6,610.1 L2144.6,609.9 L2146.6,609.6 L2148.6,609.4 L2150.6,609.2 L2152.6,608.9 L2154.6,608.7 L2156.6,608.4 L2158.6,608.2 L2160.6,607.9 L2162.6,607.7 L2164.6,607.4 L2166.6,607.2 L2168.6,606.9 L2170.6,606.7 L2172.6,606.5 L2174.6,606.2 L2176.6,606.0 L2178.6,605.7 L2180.6,605.5 L2182.6,605.2 L2184.6,605.0 L2186.6,604.7 L2188.6,604.5 L2190.6,604.2 L2192.6,604.0 L2194.6,603.7 L2196.6,603.5 L2198.6,603.2 L2200.6,602.9 L2202.6,602.7 L2204.6,602.4 L2206.6,602.2 L2208.6,601.9 L2210.6,601.7 L2212.6,601.4 L2214.6,601.2 L2216.6,600.9 L2218.6,600.7 L2220.6,600.4 L2222.6,600.2 L2224.6,599.9 L2226.6,599.7 L2228.6,599.4 L2230.6,599.2 L2232.6,598.9 L2234.6,598.6 L2236.6,598.4 L2238.6,598.1 L2240.6,597.9 L2242.6,597.6 L2244.6,597.4 L2246.6,597.1 L2248.6,596.9 L2250.6,596.6 L2252.6,596.4 L2254.6,596.1 L2256.6,595.9 L2258.6,595.6 L2260.6,595.4 L2262.6,595.1 L2264.6,594.9 L2266.6,594.6 L2268.6,594.4 L2270.6,594.1 L2272.6,593.9 L2274.6,593.6 L2276.6,593.4 L2278.6,593.1 L2280.6,592.9 L2282.6,592.6 L2284.6,592.4 L2286.6,592.1 L2288.6,591.9 L2290.6,591.6 L2292.6,591.4 L2294.6,591.1 L2296.6,590.9 L2298.6,590.7 L2300.6,590.4 L2302.6,590.2 L2304.6,589.9 L2306.6,589.7 L2308.6,589.4 L2310.6,589.2 L2312.6,589.0 L2314.6,588.7 L2316.6,588.5 L2318.6,588.3 L2320.6,588.0 L2322.6,587.8 L2324.6,587.5 L2326.6,587.3 L2328.6,587.1 L2330.6,586.8 L2332.6,586.6 L2334.6,586.4 L2336.6,586.1 L2338.6,585.9 L2340.6,585.7 L2342.6,585.4 L2344.6,585.2 L2346.6,585.0 L2348.6,584.8 L2350.6,584.5 L2352.6,584.3 L2354.6,584.1 L2356.6,583.9 L2358.6,583.6 L2360.6,583.4 L2362.6,583.2 L2364.4,583.0" fill="none" stroke="#0000ff" stroke-width="7.7" stroke-linejoin="round"/>
<text x="1443.6" y="2089.5" text-anchor="middle" class="tk">2</text>
<text x="1705.8" y="2089.5" text-anchor="middle" class="tk">4</text>
<text x="1968.5" y="2089.5" text-anchor="middle" class="tk">6</text>
<text x="2232.3" y="2089.5" text-anchor="middle" class="tk">8</text>
<text x="1412.8" y="280.9" text-anchor="end" class="tk">3.8</text>
<text x="1412.8" y="582.5" text-anchor="end" class="tk">3.6</text>
<text x="1412.8" y="884.3" text-anchor="end" class="tk">3.4</text>
<text x="1412.8" y="1186.9" text-anchor="end" class="tk">3.2</text>
<text x="1412.8" y="1488.4" text-anchor="end" class="tk">3</text>
<text x="1412.8" y="1790.8" text-anchor="end" class="tk">2.8</text>
<text x="692.1" y="84" text-anchor="middle" class="ti" textLength="53.5" lengthAdjust="spacingAndGlyphs">A</text>
<text x="1903.5" y="84" text-anchor="middle" class="ti">B</text>
<text x="692.5" y="2190.7" text-anchor="middle" class="lb" style="font-size:58.3px">Replacement time</text>
<text x="1904.5" y="2190.7" text-anchor="middle" class="lb" style="font-size:58.3px">Replacement time</text>
<text transform="translate(71,1046.5) rotate(-90)" text-anchor="middle" class="lb">Cost rate</text>
<text transform="translate(1281,1046.5) rotate(-90)" text-anchor="middle" class="lb">Cost rate</text>
<rect x="405.8" y="130" width="391.2" height="152.0" fill="#fff" stroke="#262626" stroke-width="2.8"/>
<line x1="424" y1="173" x2="620" y2="173" stroke="#00ff00" stroke-width="7.5"/>
<line x1="424" y1="241" x2="620" y2="241" stroke="#0000ff" stroke-width="7.5"/>
<text x="634" y="193" class="lg">BRPR</text>
<text x="634" y="260.8" class="lg">RPRF</text>
<rect x="1534.7" y="134.7" width="803.5" height="152.4" fill="#fff" stroke="#262626" stroke-width="2.8"/>
<line x1="1553.4" y1="176.9" x2="1749" y2="176.9" stroke="#00ff00" stroke-width="7.5"/>
<line x1="1553.4" y1="245.9" x2="1749" y2="245.9" stroke="#0000ff" stroke-width="7.5"/>
<text x="1761" y="198" class="lg">BRPR under 2DFRW-R</text>
<text x="1761" y="266.3" class="lg">BRPR under FRW</text>
<text x="750.7" y="661.0" text-anchor="middle" class="st">*</text>
<text x="592.8" y="1998.8" text-anchor="middle" class="st">*</text>
<text x="1939.6" y="672.0" text-anchor="middle" class="st">*</text>
<text x="1801" y="1988.6" text-anchor="middle" class="st">*</text>
<text x="589.1" y="724.4" class="an">(5.9358, 3.5949)</text>
<text x="703.9" y="1942.4" class="an">(4.8094, 2.6264)</text>
<text x="1840.8" y="703" class="an">(5.6947, 3.5525)</text>
<text x="1873.9" y="1963.8" class="an">(4.6794, 2.6769)</text>
</svg>
</body></html>
